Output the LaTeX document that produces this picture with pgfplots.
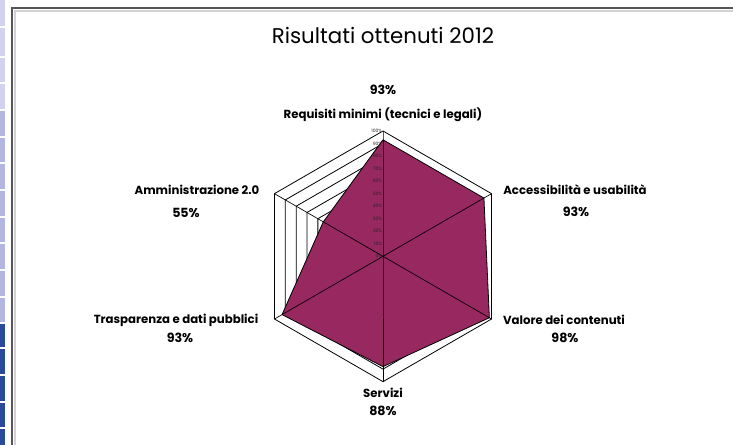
\documentclass[border=0pt]{standalone}
\usepackage{pgfplots}
\pgfplotsset{compat=1.18}
\usepgfplotslibrary{polar}
\usepackage{fontspec}
\setmainfont{Poppins}

\definecolor{fillc}{RGB}{152,40,96}
\definecolor{framec}{RGB}{85,85,85}
\definecolor{stripA}{RGB}{208,210,238}
\definecolor{stripB}{RGB}{178,182,224}
\definecolor{stripC}{RGB}{42,74,155}

\begin{document}
\begin{tikzpicture}[x=0.75pt,y=0.75pt]
\useasboundingbox (0,0) rectangle (733,445);
\fill[white] (0,0) rectangle (733,445);

% blue strip on the left edge (screenshot border)
\fill[stripA] (0,335) rectangle (5,445);
\fill[stripB] (0,122) rectangle (5,335);
\fill[stripC] (0,0) rectangle (5,122);
\foreach \yy in {17,43,70,97,122,148,175,202,228,255,282,308,335,362,388,418}
  \draw[white,line width=0.8pt] (0,\yy) -- (5,\yy);

% frame
\draw[gray!35,line width=1.2pt] (15,-5) -- (15,434) -- (740,434);
\draw[framec,line width=1.6pt] (12,-10) -- (12,437) -- (745,437);

\begin{polaraxis}[
  at={(287.25pt,141.5pt)}, anchor=center,
  width=188pt, height=188pt, scale only axis,
  hide axis, xmin=0, xmax=360, ymin=0, ymax=100,
  clip=false,
]
% grid rings
\pgfplotsinvokeforeach{10,20,...,100}{
  \addplot[black,line width=0.6pt,no marks] coordinates {(90,#1) (30,#1) (-30,#1) (-90,#1) (-150,#1) (150,#1) (90,#1)};
}
% data
\addplot[draw=black,line width=0.6pt,fill=fillc,no marks] coordinates {
  (90,93) (30,93) (-30,98) (-90,88) (-150,93) (150,55) (90,93)};
% spokes
\addplot[black,line width=0.5pt,no marks] coordinates {(90,100) (90,0) (-90,100)};
\addplot[black,line width=0.5pt,no marks] coordinates {(30,100) (0,0) (-150,100)};
\addplot[black,line width=0.5pt,no marks] coordinates {(150,100) (0,0) (-30,100)};
% radial tick labels
\pgfplotsinvokeforeach{0,10,...,100}{
  \node[anchor=east,inner sep=0.6pt,font=\fontsize{3.4}{4}\selectfont,text=black!85] at (axis cs:90,#1) {#1\%};
}
\end{polaraxis}

% title and category labels
\node[font=\fontsize{16}{18}\selectfont] at (383,410) {Risultati ottenuti 2012};
\begin{scope}[every node/.style={font=\bfseries\fontsize{8.8}{10}\selectfont}]
\node at (383,330) {Requisiti minimi (tecnici e legali)};
\node at (197,255) {Amministrazione 2.0};
\node at (575,255) {Accessibilità e usabilità};
\node at (176,125) {Trasparenza e dati pubblici};
\node at (564,125) {Valore dei contenuti};
\node at (383,52) {Servizi};
\end{scope}
\begin{scope}[every node/.style={font=\bfseries\fontsize{9.5}{11}\selectfont}]
\node at (383,355) {93\%};
\node at (186,232) {55\%};
\node at (576,233) {93\%};
\node at (180,107) {93\%};
\node at (565,107) {98\%};
\node at (383,34) {88\%};
\end{scope}
\end{tikzpicture}
\end{document}
